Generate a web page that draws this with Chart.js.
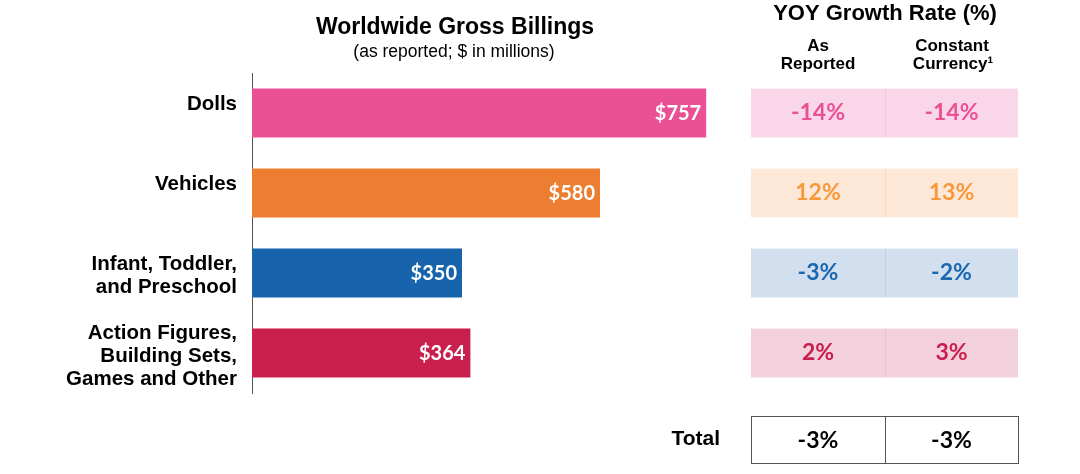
<!DOCTYPE html>
<html>
<head>
<meta charset="utf-8">
<script src="https://cdn.jsdelivr.net/npm/chart.js@4.4.1/dist/chart.umd.min.js"></script>
<style>
  html, body { margin: 0; padding: 0; background: #fff; }
  #wrap { width: 1080px; height: 474px; }
</style>
</head>
<body>
<div id="wrap"><canvas id="chart" width="1080" height="474"></canvas></div>
<script>
// Datos del gráfico
const categories = [
  ['Dolls'],
  ['Vehicles'],
  ['Infant, Toddler,', 'and Preschool'],
  ['Action Figures,', 'Building Sets,', 'Games and Other']
];
const grossBillings = [757, 580, 350, 364];
const yoyAsReported = [-14, 12, -3, 2];
const yoyConstantCurrency = [-14, 13, -2, 3];
const totalAsReported = -3;
const totalConstantCurrency = -3;

// Colores
const barColors = ['#EA5094', '#ED7D31', '#1764AD', '#C91F4F'];
const cellFills = ['#FAD7E8', '#FDE8D7', '#D1DFEE', '#F3D1DC'];
const cellLines = ['#F4C4DA', '#F8D8BF', '#BCD0E6', '#ECBECC'];
const cellText = ['#EA5094', '#F7993A', '#1B67B0', '#C91F4F'];

const ARIAL = '"Liberation Sans", Arial, sans-serif';
const CALIBRI = 'Lato, "Open Sans", sans-serif';

// Columnas de la tabla de crecimiento
const col1 = { left: 751, right: 885 };
const col2 = { left: 885, right: 1018 };

function pct(v) { return v + '%'; }

// Valores dentro de las barras
const barLabels = {
  id: 'barLabels',
  afterDatasetsDraw(chart) {
    const ctx = chart.ctx;
    const meta = chart.getDatasetMeta(0);
    ctx.save();
    ctx.font = 'bold 20px ' + CALIBRI;
    ctx.fillStyle = '#fff';
    ctx.textAlign = 'right';
    ctx.textBaseline = 'middle';
    meta.data.forEach((bar, i) => {
      ctx.fillText('$' + grossBillings[i], bar.x - 5, bar.y + 1);
    });
    ctx.restore();
  }
};

// Títulos y tabla YOY
const sidePanel = {
  id: 'sidePanel',
  afterDraw(chart) {
    const ctx = chart.ctx;
    const meta = chart.getDatasetMeta(0);
    ctx.save();
    ctx.textAlign = 'center';
    ctx.textBaseline = 'middle';
    ctx.fillStyle = '#000';

    ctx.font = 'bold 23px ' + ARIAL;
    ctx.fillText('Worldwide Gross Billings', 455, 28);
    ctx.font = '17.5px ' + ARIAL;
    ctx.fillText('(as reported; $ in millions)', 454, 52);

    ctx.font = 'bold 22px ' + ARIAL;
    ctx.fillText('YOY Growth Rate (%)', 885, 14);
    ctx.font = 'bold 17px ' + ARIAL;
    ctx.fillText('As', 818, 46);
    ctx.fillText('Reported', 818, 64);
    ctx.fillText('Constant', 952, 46);
    ctx.fillText('Currency\u00B9', 953, 64);

    // Filas de la tabla alineadas con las barras
    meta.data.forEach((bar, i) => {
      const top = bar.y - bar.height / 2;
      const h = bar.height;
      ctx.fillStyle = cellFills[i];
      ctx.fillRect(col1.left, top, col2.right - col1.left, h);
      ctx.strokeStyle = cellLines[i];
      ctx.lineWidth = 1;
      ctx.beginPath();
      ctx.moveTo(col1.right + 0.5, top);
      ctx.lineTo(col1.right + 0.5, top + h);
      ctx.stroke();

      ctx.fillStyle = cellText[i];
      ctx.font = 'bold 23px ' + CALIBRI;
      ctx.fillText(pct(yoyAsReported[i]), (col1.left + col1.right) / 2, bar.y);
      ctx.fillText(pct(yoyConstantCurrency[i]), (col2.left + col2.right) / 2, bar.y);
    });

    // Fila total
    const totTop = chart.chartArea.bottom + 23;
    const totH = 47;
    ctx.strokeStyle = '#555';
    ctx.lineWidth = 1;
    ctx.strokeRect(col1.left + 0.5, totTop + 0.5, col2.right - col1.left, totH);
    ctx.beginPath();
    ctx.moveTo(col1.right + 0.5, totTop);
    ctx.lineTo(col1.right + 0.5, totTop + totH);
    ctx.stroke();

    ctx.fillStyle = '#000';
    ctx.font = 'bold 23px ' + CALIBRI;
    ctx.fillText(pct(totalAsReported), (col1.left + col1.right) / 2, totTop + totH / 2 + 1);
    ctx.fillText(pct(totalConstantCurrency), (col2.left + col2.right) / 2, totTop + totH / 2 + 1);

    ctx.textAlign = 'right';
    ctx.font = 'bold 21px ' + ARIAL;
    ctx.fillText('Total', 720, totTop + totH / 2);
    ctx.restore();
  }
};

new Chart(document.getElementById('chart'), {
  type: 'bar',
  data: {
    labels: categories,
    datasets: [{
      data: grossBillings,
      backgroundColor: barColors,
      borderWidth: 0,
      barPercentage: 0.61,
      categoryPercentage: 1
    }]
  },
  options: {
    indexAxis: 'y',
    responsive: false,
    animation: false,
    layout: {
      padding: { left: 0, right: 348, top: 73, bottom: 81 }
    },
    scales: {
      x: {
        display: false,
        min: 0,
        max: 800
      },
      y: {
        afterFit(scale) { scale.width = 252; },
        grid: { display: false, drawTicks: false },
        border: { display: true, color: '#555', width: 1 },
        ticks: {
          color: '#000',
          padding: 15,
          labelOffset: 3,
          font: { family: ARIAL, size: 20.5, weight: 'bold', lineHeight: 1.12 },
          callback(value) {
            const lines = categories[value];
            return lines.length === 1 ? [lines[0], ''] : lines;
          }
        }
      }
    },
    plugins: {
      legend: { display: false },
      tooltip: { enabled: false }
    }
  },
  plugins: [barLabels, sidePanel]
});
</script>
</body>
</html>
